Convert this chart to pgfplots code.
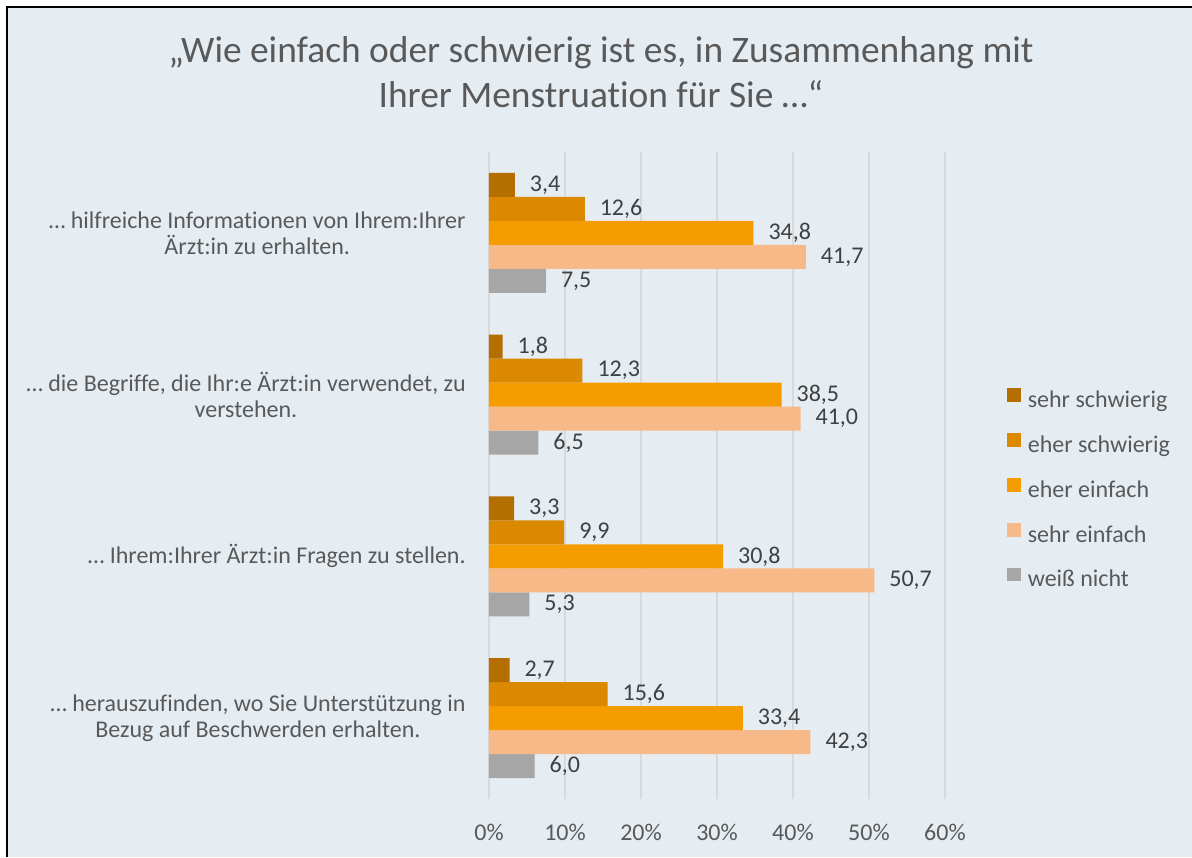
\documentclass[border=0pt]{standalone}
\usepackage{pgfplots}
\pgfplotsset{compat=1.18}
\usepackage{fontspec}
\setmainfont{Carlito}[Ligatures=NoCommon]
\definecolor{bgcol}{RGB}{229,237,243}
\definecolor{gridcol}{RGB}{217,217,217}
\definecolor{txtgray}{RGB}{89,89,89}
\definecolor{valgray}{RGB}{64,64,64}
\definecolor{cA}{RGB}{181,111,0}
\definecolor{cB}{RGB}{218,137,0}
\definecolor{cC}{RGB}{245,156,0}
\definecolor{cD}{RGB}{246,185,135}
\definecolor{cE}{RGB}{166,166,166}
\begin{document}
\begin{tikzpicture}
% background (image is 1192x857 px at 0.5pt/px; axis origin at px (489,799))
\fill[white] (-244.5pt,-29pt) rectangle (351.5pt,399.5pt);
\fill[bgcol] (-241pt,-29pt) rectangle (351.5pt,396pt);
\draw[black,line width=1.2pt] (-241pt,-29pt) -- (-241pt,396pt) -- (351.5pt,396pt);
% title
\node[anchor=base,text=txtgray,font=\fontsize{18.7}{22}\selectfont] at (56pt,368pt) {„Wie einfach oder schwierig ist es, in Zusammenhang mit};
\node[anchor=base,text=txtgray,font=\fontsize{18.7}{22}\selectfont] at (56pt,345.5pt) {Ihrer Menstruation für Sie …“};
\begin{axis}[
  at={(0,0)}, anchor=south west,
  scale only axis, width=228pt, height=323.5pt,
  xbar=0pt, bar width=12pt,
  xmin=0, xmax=60, ymin=-0.5, ymax=3.5, y dir=reverse,
  axis line style={draw=none},
  major tick length=0pt,
  xmajorgrids, grid style={draw=gridcol,line width=0.8pt},
  xtick={0,10,20,30,40,50,60},
  xticklabels={0\%,10\%,20\%,30\%,40\%,50\%,60\%},
  xticklabel style={font=\fontsize{12}{14}\selectfont,text=txtgray,yshift=-9pt},
  ytick={0,1,2,3},
  yticklabels={{… hilfreiche Informationen von Ihrem:Ihrer\\Ärzt:in zu erhalten.},
               {… die Begriffe, die Ihr:e Ärzt:in verwendet, zu\\verstehen.},
               {… Ihrem:Ihrer Ärzt:in Fragen zu stellen.},
               {… herauszufinden, wo Sie Unterstützung in\\Bezug auf Beschwerden erhalten.}},
  yticklabel style={font=\fontsize{12}{13}\selectfont,text=txtgray,align=center,inner sep=0pt,xshift=-11.5pt},
  nodes near coords={\pgfmathprintnumber[fixed,fixed zerofill,precision=1,use comma,assume math mode=true]{\pgfplotspointmeta}},
  every node near coord/.append style={font=\fontsize{12}{13}\selectfont,text=valgray,xshift=4pt},
  legend style={at={(1.136,0.4753)},anchor=west,draw=none,fill=none,
    font=\fontsize{12}{13}\selectfont,text=txtgray,row sep=9pt,inner sep=0pt,
    nodes={inner sep=1.4pt,text height=8pt,text depth=2.5pt}},
  legend cell align=left,
  reverse legend,
  legend image code/.code={\fill[#1,draw=none] (0pt,0pt) rectangle (6.8pt,6.8pt); \path (8.8pt,0pt);},
]
\addplot[fill=cE,draw=none] coordinates {(7.5,0) (6.5,1) (5.3,2) (6.0,3)};
\addplot[fill=cD,draw=none] coordinates {(41.7,0) (41.0,1) (50.7,2) (42.3,3)};
\addplot[fill=cC,draw=none] coordinates {(34.8,0) (38.5,1) (30.8,2) (33.4,3)};
\addplot[fill=cB,draw=none] coordinates {(12.6,0) (12.3,1) (9.9,2) (15.6,3)};
\addplot[fill=cA,draw=none] coordinates {(3.4,0) (1.8,1) (3.3,2) (2.7,3)};
\legend{weiß nicht,sehr einfach,eher einfach,eher schwierig,sehr schwierig}
\end{axis}
\pgfresetboundingbox
\useasboundingbox (-244.5pt,-29pt) rectangle (351.5pt,399.5pt);
\end{tikzpicture}
\end{document}
